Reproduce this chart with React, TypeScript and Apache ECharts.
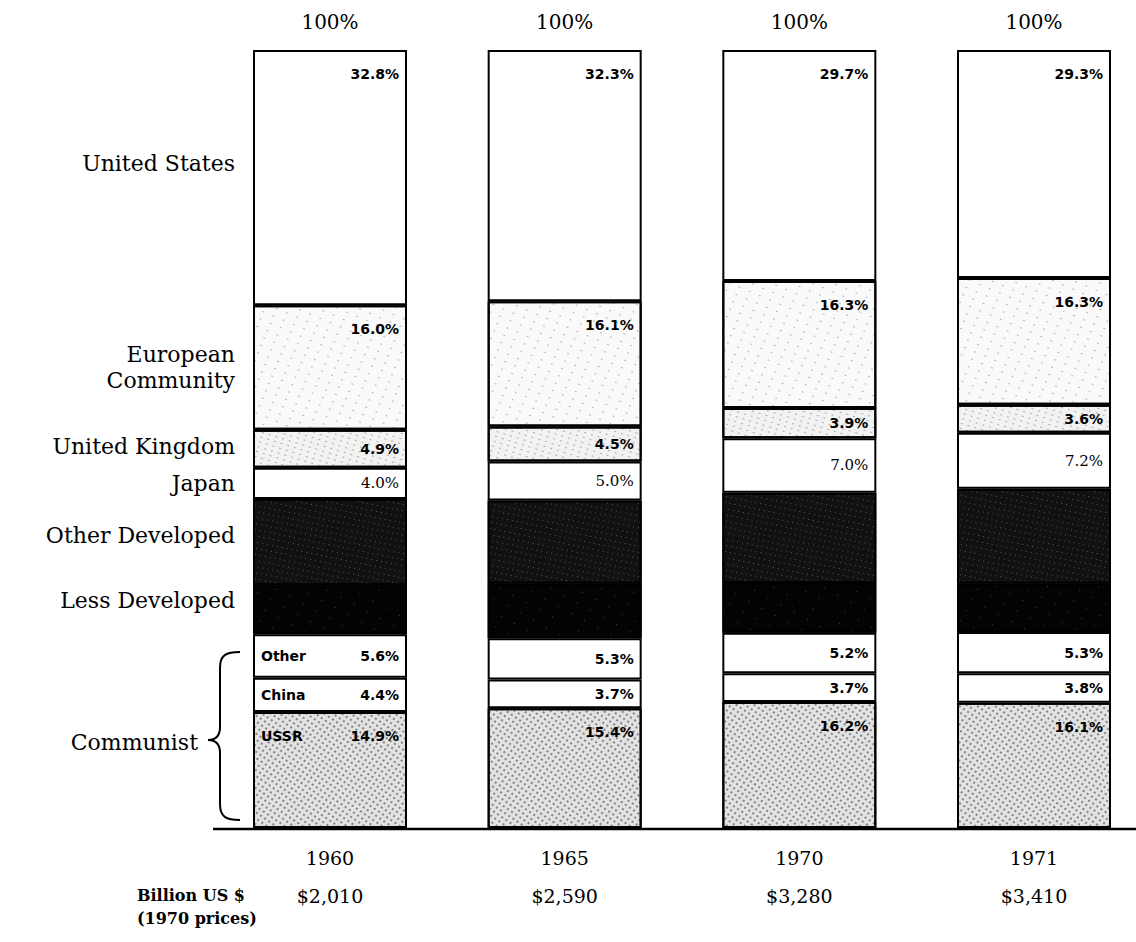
import React, { useEffect, useRef } from 'react';
import * as echarts from 'echarts';

// ---- data ----
const years = ['1960', '1965', '1970', '1971'];
const gnpBillions = ['$2,010', '$2,590', '$3,280', '$3,410'];
const topLabels = ['100%', '100%', '100%', '100%'];

const unitedStates = [32.8, 32.3, 29.7, 29.3];
const europeanCommunity = [16.0, 16.1, 16.3, 16.3];
const unitedKingdom = [4.9, 4.5, 3.9, 3.6];
const japan = [4.0, 5.0, 7.0, 7.2];
const otherDeveloped = [11.1, 10.7, 11.6, 12.2];
const lessDeveloped = [6.3, 7.0, 6.4, 6.2];
const communistOther = [5.6, 5.3, 5.2, 5.3];
const china = [4.4, 3.7, 3.7, 3.8];
const ussr = [14.9, 15.4, 16.2, 16.1];

const SERIF = '"DejaVu Serif", "Liberation Serif", serif';
const SANS = '"DejaVu Sans", "Liberation Sans", sans-serif';

type Def = {
  name: string;
  data: number[];
  color: string;
  decal?: any;
  label?: 'top' | 'mid' | null;
  bold?: boolean;
  inBarName?: string;
  sideLabel?: string;
  sideDy?: number;
};

const defs: Def[] = [
  {
    name: 'USSR', data: ussr, color: '#e2e2e2', label: 'top', bold: true, inBarName: 'USSR',
    decal: { symbol: 'rect', symbolSize: 1, color: 'rgba(0,0,0,0.42)', dashArrayX: [2, 3], dashArrayY: [2, 3], rotation: 0.6 },
  },
  { name: 'China', data: china, color: '#ffffff', label: 'mid', bold: true, inBarName: 'China' },
  { name: 'Other', data: communistOther, color: '#ffffff', label: 'mid', bold: true, inBarName: 'Other' },
  {
    name: 'Less Developed', data: lessDeveloped, color: '#030303', label: null, sideLabel: 'Less Developed', sideDy: -9,
    decal: { symbol: 'rect', symbolSize: 1, color: 'rgba(255,255,255,0.25)', dashArrayX: [1, 14], dashArrayY: [1, 11], rotation: 0.5 },
  },
  {
    name: 'Other Developed', data: otherDeveloped, color: '#111111', label: null, sideLabel: 'Other Developed', sideDy: -7,
    decal: { symbol: 'rect', symbolSize: 1, color: 'rgba(255,255,255,0.3)', dashArrayX: [1, 4], dashArrayY: [1, 5], rotation: 0.2 },
  },
  { name: 'Japan', data: japan, color: '#ffffff', label: 'mid', bold: false, sideLabel: 'Japan', sideDy: 0 },
  {
    name: 'United Kingdom', data: unitedKingdom, color: '#f2f2f2', label: 'mid', bold: true, sideLabel: 'United Kingdom', sideDy: -2,
    decal: { symbol: 'rect', symbolSize: 1, color: 'rgba(0,0,0,0.3)', dashArrayX: [2, 5], dashArrayY: [1, 4], rotation: 0.3 },
  },
  {
    name: 'European Community', data: europeanCommunity, color: '#fafafa', label: 'top', bold: true, sideLabel: 'European\nCommunity', sideDy: 0,
    decal: { symbol: 'rect', symbolSize: 1, color: 'rgba(0,0,0,0.28)', dashArrayX: [2, 9], dashArrayY: [1, 7], rotation: 0.4 },
  },
  { name: 'United States', data: unitedStates, color: '#ffffff', label: 'top', bold: true, sideLabel: 'United States', sideDy: -14 },
];

const fmt = (v: number) => v.toFixed(1) + '%';

// brace shape registration
echarts.graphic.registerShape(
  'brace',
  echarts.graphic.extendPath(
    'M32 0 C18 0 12 3 12 16 L12 75 C12 84 8 88 0 88 C8 88 12 92 12 101 L12 152 C12 165 18 168 32 168',
    {}
  ) as any
);

export default function App() {
  const ref = useRef<HTMLDivElement>(null);

  useEffect(() => {
    if (!ref.current) return;
    const chart = echarts.init(ref.current, null, { renderer: 'svg' });

    const series = defs.map((d) => {
      const labelCommon: any = {
        show: !!d.label,
        color: '#000',
        fontFamily: d.bold ? SANS : SERIF,
        fontWeight: d.bold ? 'bold' : 'normal',
        fontSize: d.bold ? 14 : 15,
        formatter: (p: any) => fmt(p.value),
      };
      if (d.label === 'top') {
        labelCommon.position = 'insideTopRight';
        labelCommon.distance = 8;
        labelCommon.offset = [0, 9];
      } else if (d.label === 'mid') {
        labelCommon.position = 'insideRight';
        labelCommon.distance = 8;
      }
      const data = d.data.map((v, i) => {
        if (i === 0 && d.inBarName) {
          return {
            value: v,
            label: {
              formatter: `{n|${d.inBarName}}{v|${fmt(v)}}`,
              rich: {
                n: { width: 92, align: 'left', fontFamily: SANS, fontWeight: 'bold', fontSize: 14, color: '#000' },
                v: { width: 46, align: 'right', fontFamily: SANS, fontWeight: 'bold', fontSize: 14, color: '#000' },
              },
            },
          };
        }
        return v;
      });
      const itemStyle: any = { color: d.color, borderColor: '#000', borderWidth: 2 };
      if (d.decal) itemStyle.decal = d.decal;
      return {
        name: d.name,
        type: 'bar',
        stack: 'total',
        barWidth: 154,
        clip: false,
        data,
        itemStyle,
        label: labelCommon,
        emphasis: { disabled: true },
      };
    });

    chart.setOption({
      animation: false,
      backgroundColor: '#ffffff',
      grid: { left: 330, right: 102, top: 50, bottom: 114, containLabel: false },
      xAxis: [
        {
          type: 'category',
          data: years,
          position: 'bottom',
          boundaryGap: false,
          axisLine: { show: false },
          axisTick: { show: false },
          axisLabel: {
            margin: 11,
            formatter: (val: string, idx: number) => `{y|${val}}\n{g|${gnpBillions[idx]}}`,
            rich: {
              y: { fontFamily: SERIF, fontSize: 19, lineHeight: 38, color: '#000' },
              g: { fontFamily: SERIF, fontSize: 19, lineHeight: 38, color: '#000' },
            },
          },
        },
        {
          type: 'category',
          data: topLabels,
          position: 'top',
          boundaryGap: false,
          axisLine: { show: false },
          axisTick: { show: false },
          axisLabel: { margin: 18, fontFamily: SERIF, fontSize: 20, color: '#000' },
        },
      ],
      yAxis: { type: 'value', min: 0, max: 100, show: false },
      series,
    });

    const graphics: any[] = [];

    // baseline across the whole chart at value 0
    const base = chart.convertToPixel({ xAxisIndex: 0, yAxisIndex: 0 }, [0, 0]) as number[];
    graphics.push({
      type: 'line',
      shape: { x1: 213, y1: base[1] + 1, x2: 1136, y2: base[1] + 1 },
      style: { stroke: '#000', lineWidth: 2.5 },
      z: 10,
    });

    // left-side category labels aligned to the 1960 column's segments
    let cum = 0;
    defs.forEach((d) => {
      const v = d.data[0];
      const mid = cum + v / 2;
      cum += v;
      if (!d.sideLabel) return;
      const pt = chart.convertToPixel({ xAxisIndex: 0, yAxisIndex: 0 }, [0, mid]) as number[];
      graphics.push({
        type: 'text',
        style: {
          text: d.sideLabel,
          x: 235,
          y: pt[1] + (d.sideDy || 0),
          align: 'right',
          verticalAlign: 'middle',
          fontFamily: SERIF,
          fontSize: 22,
          lineHeight: 26,
          fill: '#000',
        },
      });
    });

    graphics.push({
      type: 'text',
      style: { text: 'Communist', x: 198, y: 742, align: 'right', verticalAlign: 'middle', fontFamily: SERIF, fontSize: 22, fill: '#000' },
    });
    graphics.push({
      type: 'brace',
      x: 208,
      y: 652,
      scaleX: 1,
      scaleY: 1,
      style: { stroke: '#000', fill: 'none', lineWidth: 2 },
    });
    graphics.push({
      type: 'text',
      style: { text: 'Billion US $\n(1970 prices)', x: 137, y: 884, align: 'left', verticalAlign: 'top', fontFamily: SERIF, fontWeight: 'bold', fontSize: 16, lineHeight: 23, fill: '#000' },
    });

    chart.setOption({ graphic: graphics });

    return () => chart.dispose();
  }, []);

  return <div ref={ref} style={{ position: 'absolute', left: 0, top: 0, width: 1136, height: 942 }} />;
}
